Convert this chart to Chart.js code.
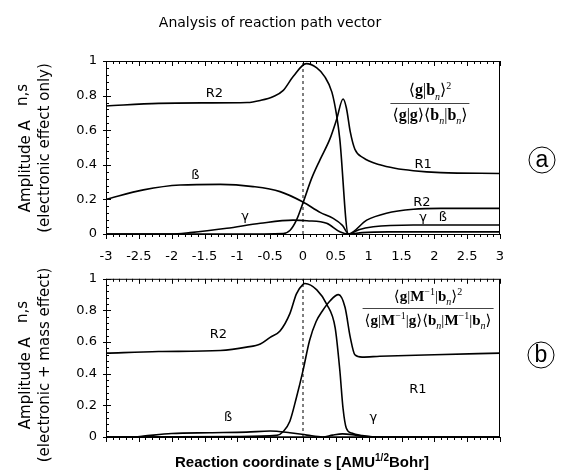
<!DOCTYPE html>
<html>
<head>
<meta charset="utf-8">
<script src="https://cdn.jsdelivr.net/npm/chart.js@4.4.1/dist/chart.umd.min.js"></script>
<style>
  html, body { margin: 0; padding: 0; background: #fff; }
  #page { position: relative; width: 569px; height: 472px; overflow: hidden; font-family: "DejaVu Sans", sans-serif; color: #000; }
  .box { position: absolute; left: 0; width: 569px; }
  .txt { position: absolute; white-space: nowrap; }
  .ylab { position: absolute; white-space: nowrap; font-size: 15px; line-height: 19px; text-align: center; transform: translate(-50%, -50%) rotate(-90deg); }
  .frac { position: absolute; transform: translateX(-50%); font-family: "Liberation Serif", "DejaVu Serif", serif; font-size: 16px; text-align: center; white-space: nowrap; }
  .frac .num { padding: 0 2px 1px; }
  .frac .den { border-top: 1px solid #444; padding: 1px 2px 0; }
  .frac sub { font-size: 10px; font-style: italic; }
  .frac sup { font-size: 10px; }
  .circ { position: absolute; width: 25px; height: 25px; border: 1.5px solid #000; border-radius: 50%; transform: translate(-50%, -50%);
          font-family: "Liberation Sans", sans-serif; font-size: 23px; line-height: 23px; text-align: center; }
</style>
</head>
<body>
<div id="page">
  <div class="box" style="top:0;height:262px"><canvas id="topChart" width="569" height="262"></canvas></div>
  <div class="box" style="top:262px;height:210px"><canvas id="bottomChart" width="569" height="210"></canvas></div>

  <div class="txt" style="left:270px;top:22px;transform:translate(-50%,-50%);font-size:14px">Analysis of reaction path vector</div>

  <div class="ylab" style="left:35px;top:148px">Amplitude A &nbsp;&nbsp;<span style="position:relative;top:-3px">n,s</span><br>(electronic effect only)</div>
  <div class="ylab" style="left:35px;top:365px">Amplitude A &nbsp;&nbsp;<span style="position:relative;top:-3px">n,s</span><br>(electronic + mass effect)</div>

  <div class="txt" style="left:302px;top:461px;transform:translate(-50%,-50%);font-family:'Liberation Sans',sans-serif;font-weight:bold;font-size:15px">Reaction coordinate s [AMU<sup style="font-size:10px">1/2</sup>Bohr]</div>

  <div class="frac" style="left:430px;top:80px">
    <div class="num">&#10216;<b>g</b>|<b>b</b><sub>n</sub>&#10217;<sup>2</sup></div>
    <div class="den">&#10216;<b>g</b>|<b>g</b>&#10217;&#10216;<b>b</b><sub>n</sub>|<b>b</b><sub>n</sub>&#10217;</div>
  </div>
  <div class="frac" style="left:428px;top:286px;font-size:15px">
    <div class="num">&#10216;<b>g</b>|<b>M</b><sup>&minus;1</sup>|<b>b</b><sub>n</sub>&#10217;<sup>2</sup></div>
    <div class="den">&#10216;<b>g</b>|<b>M</b><sup>&minus;1</sup>|<b>g</b>&#10217;&#10216;<b>b</b><sub>n</sub>|<b>M</b><sup>&minus;1</sup>|<b>b</b><sub>n</sub>&#10217;</div>
  </div>

  <div class="circ" style="left:542px;top:160px">a</div>
  <div class="circ" style="left:541px;top:355px">b</div>
</div>

<script>
// axis ticks
const xTickValues = [-3, -2.5, -2, -1.5, -1, -0.5, 0, 0.5, 1, 1.5, 2, 2.5, 3];
const yTickValues = [0, 0.2, 0.4, 0.6, 0.8, 1];

// (a) electronic effect only
const topR2S = [-3, -2.2, -1.5, -0.85, -0.65, -0.45, -0.3, -0.15, 0.05, 0.21, 0.33, 0.44, 0.51, 0.56, 0.69, 0.97, 1.27, 1.68, 2.1, 3];
const topR2A = [0.74, 0.755, 0.758, 0.76, 0.772, 0.795, 0.83, 0.91, 0.985, 0.96, 0.91, 0.82, 0.69, 0.55, 0, 0.08, 0.12, 0.143, 0.148, 0.148];
const topR1S = [-3, -1, -0.3, -0.2, -0.1, 0, 0.13, 0.26, 0.41, 0.51, 0.61, 0.66, 0.72, 0.79, 0.92, 1.17, 1.4, 1.68, 2.1, 3];
const topR1A = [0, 0, 0.003, 0.02, 0.08, 0.18, 0.32, 0.43, 0.55, 0.66, 0.78, 0.73, 0.59, 0.49, 0.44, 0.40, 0.38, 0.366, 0.355, 0.35];
const topBetaS = [-3, -2.43, -1.87, -1.26, -0.76, -0.35, 0, 0.26, 0.46, 0.6, 0.7, 0.85, 1.07, 1.68, 3];
const topBetaA = [0.20, 0.255, 0.283, 0.287, 0.274, 0.245, 0.185, 0.125, 0.09, 0.05, 0, 0.025, 0.042, 0.052, 0.052];
const topGammaS = [-3, -2, -1.72, -1.16, -0.65, -0.15, 0.06, 0.36, 0.56, 0.7, 0.9, 1.3, 3];
const topGammaA = [0, 0, 0.008, 0.033, 0.062, 0.08, 0.077, 0.062, 0.013, 0, 0.008, 0.012, 0.012];

// (b) electronic + mass effect
const botR2S = [-3, -2.2, -1.26, -0.86, -0.65, -0.5, -0.35, -0.2, -0.1, 0, 0.03, 0.21, 0.36, 0.49, 0.56, 0.61, 0.66, 0.74, 0.9, 1.2, 3];
const botR2A = [0.53, 0.54, 0.547, 0.568, 0.588, 0.63, 0.67, 0.78, 0.905, 0.965, 0.97, 0.93, 0.84, 0.69, 0.425, 0.18, 0.055, 0.025, 0.01, 0, 0];
const botR1S = [-3, -1, -0.4, -0.3, -0.2, -0.1, 0, 0.1, 0.2, 0.3, 0.41, 0.54, 0.64, 0.72, 0.79, 0.9, 1.17, 2, 3];
const botR1A = [0, 0.003, 0.01, 0.035, 0.1, 0.25, 0.42, 0.61, 0.73, 0.8, 0.86, 0.9, 0.82, 0.63, 0.52, 0.505, 0.51, 0.52, 0.53];
const botBetaS = [-3, -2.6, -2.43, -2.0, -1.42, -0.86, -0.5, -0.2, 0.06, 0.3, 3];
const botBetaA = [0, 0, 0.006, 0.022, 0.027, 0.031, 0.038, 0.027, 0.012, 0, 0];
const botGammaS = [-3, 0.3, 0.45, 0.6, 0.75, 0.9, 1.2, 3];
const botGammaA = [0, 0, 0.012, 0.02, 0.015, 0.005, 0, 0];

// curve labels (text, s, A)
const topLabelText = ['R2', 'ß', 'γ', 'R1', 'R2', 'γ', 'ß'];
const topLabelS = [-1.35, -1.64, -0.88, 1.83, 1.81, 1.83, 2.13];
const topLabelA = [0.81, 0.335, 0.10, 0.40, 0.18, 0.092, 0.092];
const botLabelText = ['R2', 'ß', 'R1', 'γ'];
const botLabelS = [-1.29, -1.14, 1.75, 1.07];
const botLabelA = [0.65, 0.125, 0.30, 0.125];

function pts(s, a) {
    return s.map((v, i) => ({ x: v, y: a[i] }));
}

function curve(s, a) {
    return {
        data: pts(s, a),
        borderColor: '#000',
        borderWidth: 1.6,
        pointRadius: 0,
        cubicInterpolationMode: 'monotone',
        fill: false
    };
}

// dashed marker at s = 0
const zeroLine = {
    data: [{ x: 0, y: 0 }, { x: 0, y: 1 }],
    borderColor: '#000',
    borderWidth: 1,
    borderDash: [3, 3],
    pointRadius: 0
};

// frame, inward ticks and curve labels
const frameTicks = {
    id: 'frameTicks',
    afterDatasetsDraw(chart, args, opts) {
        const { ctx, chartArea: a, scales: { x, y } } = chart;
        ctx.save();
        ctx.strokeStyle = '#000';
        ctx.lineWidth = 1;
        ctx.strokeRect(a.left + 0.5, a.top + 0.5, a.right - a.left - 1, a.bottom - a.top);
        ctx.beginPath();
        for (let i = -30; i <= 30; i++) {
            const px = Math.round(x.getPixelForValue(i / 10)) + 0.5;
            const len = i % 5 === 0 ? 5 : 3;
            ctx.moveTo(px, a.bottom); ctx.lineTo(px, a.bottom + len);
            ctx.moveTo(px, a.top); ctx.lineTo(px, a.top + len);
        }
        for (let j = 0; j <= 25; j++) {
            const py = Math.round(y.getPixelForValue(j * 0.04)) + 0.5;
            const major = j % 5 === 0;
            ctx.moveTo(a.left - (major ? 3 : 0), py);
            ctx.lineTo(a.left + (major ? 5 : 3), py);
        }
        ctx.stroke();

        ctx.fillStyle = '#000';
        ctx.font = '13px "DejaVu Sans"';
        ctx.textAlign = 'center';
        ctx.textBaseline = 'middle';
        opts.text.forEach((t, i) => {
            ctx.fillText(t, x.getPixelForValue(opts.s[i]), y.getPixelForValue(opts.a[i]));
        });
        ctx.restore();
    }
};

const fmt = v => String(Math.round(v * 10) / 10);

function makeChart(id, datasets, labels, showX, padTop, xHeight) {
    return new Chart(document.getElementById(id), {
        type: 'line',
        data: { datasets: datasets },
        plugins: [frameTicks],
        options: {
            responsive: false,
            devicePixelRatio: 1,
            animation: false,
            layout: { padding: { left: 0, right: 69, top: padTop, bottom: 0 } },
            plugins: {
                legend: { display: false },
                tooltip: { enabled: false },
                frameTicks: labels
            },
            scales: {
                x: {
                    type: 'linear',
                    min: -3,
                    max: 3,
                    afterBuildTicks: s => { s.ticks = xTickValues.map(v => ({ value: v })); },
                    afterFit: s => { s.height = xHeight; },
                    grid: { display: false, drawTicks: false },
                    border: { display: false },
                    ticks: {
                        display: showX,
                        padding: 15,
                        color: '#000',
                        font: { family: 'DejaVu Sans', size: 13 },
                        maxRotation: 0,
                        autoSkip: false,
                        callback: fmt
                    }
                },
                y: {
                    min: 0,
                    max: 1,
                    afterBuildTicks: s => { s.ticks = yTickValues.map(v => ({ value: v })); },
                    afterFit: s => { s.width = 106; },
                    grid: { display: false, drawTicks: false },
                    border: { display: false },
                    ticks: {
                        padding: 9,
                        color: '#000',
                        font: { family: 'DejaVu Sans', size: 13 },
                        callback: fmt
                    }
                }
            }
        }
    });
}

const topChart = makeChart('topChart', [
    curve(topR2S, topR2A),
    curve(topR1S, topR1A),
    curve(topBetaS, topBetaA),
    curve(topGammaS, topGammaA),
    zeroLine
], { text: topLabelText, s: topLabelS, a: topLabelA }, true, 61, 28);

const bottomChart = makeChart('bottomChart', [
    curve(botR2S, botR2A),
    curve(botR1S, botR1A),
    curve(botBetaS, botBetaA),
    curve(botGammaS, botGammaA),
    Object.assign({}, zeroLine)
], { text: botLabelText, s: botLabelS, a: botLabelA }, false, 13, 35);
</script>
</body>
</html>
